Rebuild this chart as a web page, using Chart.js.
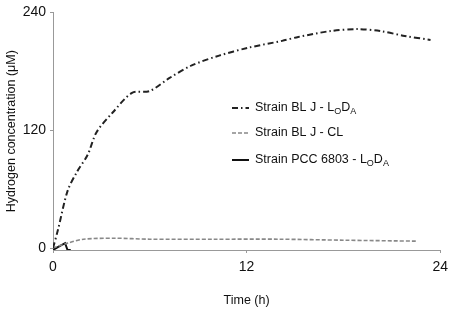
<!DOCTYPE html>
<html><head><meta charset="utf-8">
<script src="https://cdn.jsdelivr.net/npm/chart.js@4.4.0/dist/chart.umd.min.js"></script>
<style>html,body{margin:0;padding:0;background:#fff}#wrap{width:454px;height:312px}</style>
</head><body><div id="wrap"><canvas id="c" width="454" height="312"></canvas></div>
<script>
const xTicks = [0, 12, 24];
const yTicks = [0, 120, 240];
const bljLodaTime = [0, 0.3, 0.9, 1.5, 2.15, 2.7, 3.7, 4.9, 6.0, 7.2, 8.6, 10.3, 12.1, 14.2, 15.2, 17.2, 18.9, 20.3, 21.8, 23.4];
const bljLodaVal  = [0, 18, 58, 78, 95, 118, 138, 158, 160, 173, 186, 196, 204, 211, 215, 221, 223, 221, 216, 212];
const bljClTime = [0, 0.9, 1.9, 3.8, 6, 10, 14, 18, 22.6];
const bljClVal  = [0, 5, 9, 10, 9, 9, 9, 8, 7];
const pccTime = [0, 0.3, 0.75, 0.9, 1.1];
const pccVal  = [-2, 1, 5, -2, -2];
const legendLabels = [
  [["Strain BL J - L",0],["O",1],["D",0],["A",1]],
  [["Strain BL J - CL",0]],
  [["Strain PCC 6803 - L",0],["O",1],["D",0],["A",1]]
];
const zip = (t, v) => t.map((x, i) => ({x, y: v[i]}));
const FONT = "'Liberation Sans', Arial, sans-serif";
const styles = [
  {color:'#222', width:2, dash:[6,3,1.5,3]},
  {color:'#888', width:1.6, dash:[4,2]},
  {color:'#111', width:2, dash:[]}
];
const legendPlugin = {
  id:'customLegend',
  afterDraw(chart){
    const ctx = chart.ctx;
    const ys = [108, 133, 160];
    legendLabels.forEach((parts, i) => {
      const s = styles[i];
      ctx.save();
      ctx.strokeStyle = s.color; ctx.lineWidth = s.width; ctx.setLineDash(s.dash);
      ctx.beginPath(); ctx.moveTo(232, ys[i]); ctx.lineTo(249, ys[i]); ctx.stroke();
      ctx.setLineDash([]);
      ctx.fillStyle = '#111'; ctx.textBaseline = 'middle'; ctx.textAlign = 'left';
      let x = 255;
      parts.forEach(([txt, sub]) => {
        ctx.font = (sub ? 9 : 12.5) + 'px ' + FONT;
        ctx.fillText(txt, x, ys[i] + (sub ? 4 : 0));
        x += ctx.measureText(txt).width;
      });
      ctx.restore();
    });
  }
};
new Chart(document.getElementById('c'), {
  type:'line',
  data:{datasets:[
    {label:'Strain BL J - LoDA', data:zip(bljLodaTime,bljLodaVal), borderColor:styles[0].color, borderWidth:styles[0].width, borderDash:styles[0].dash, pointRadius:0, tension:0.3, fill:false},
    {label:'Strain BL J - CL', data:zip(bljClTime,bljClVal), borderColor:styles[1].color, borderWidth:styles[1].width, borderDash:styles[1].dash, pointRadius:0, tension:0.3, fill:false},
    {label:'Strain PCC 6803 - LoDA', data:zip(pccTime,pccVal), borderColor:styles[2].color, borderWidth:styles[2].width, pointRadius:0, tension:0, fill:false}
  ]},
  options:{
    responsive:false, animation:false,
    layout:{padding:{left:0,right:11,top:8,bottom:0}},
    plugins:{legend:{display:false}, tooltip:{enabled:false}},
    scales:{
      x:{type:'linear', min:0, max:24,
        afterBuildTicks(s){ s.ticks = xTicks.map(v=>({value:v})); },
        afterFit(s){ s.height = 62; },
        border:{color:'#999', width:1},
        grid:{drawOnChartArea:false, color:'#999', tickLength:3},
        ticks:{color:'#111', font:{family:FONT,size:14}, padding:6, maxRotation:0},
        title:{display:true, text:'Time (h)', color:'#111', font:{family:FONT,size:12.5}, padding:{top:10}}
      },
      y:{min:-2, max:240,
        afterBuildTicks(s){ s.ticks = yTicks.map(v=>({value:v})); },
        afterFit(s){ s.width = 53; },
        border:{color:'#999', width:1},
        grid:{drawOnChartArea:false, color:'#999', tickLength:3},
        ticks:{color:'#111', font:{family:FONT,size:14}, padding:4},
        title:{display:true, text:'Hydrogen concentration (μM)', color:'#111', font:{family:FONT,size:12.5}, padding:{bottom:4}}
      }
    }
  },
  plugins:[legendPlugin]
});
</script></body></html>
